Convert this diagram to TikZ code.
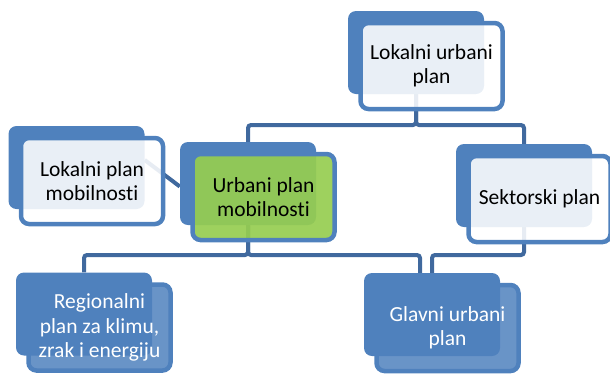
\documentclass[tikz,border=0pt]{standalone}
\usepackage{fontspec}
\setmainfont{Carlito}[Ligatures={NoCommon,NoContextual}]
\usetikzlibrary{backgrounds}

\definecolor{backblue}{RGB}{79,129,189}
\definecolor{linkblue}{RGB}{64,105,158}
\definecolor{limegreen}{RGB}{150,205,80}

\tikzstyle{back} = [rectangle,
    rounded corners=8pt,
    fill=backblue,
    inner sep=0pt,
    minimum width=136pt,
    minimum height=83pt]
\tikzstyle{front} = [rectangle,
    rounded corners=8pt,
    draw=backblue,
    line width=4.5pt,
    minimum width=142pt,
    minimum height=86pt,
    inner sep=2pt,
    text opacity=1,
    align=center,
    font=\fontsize{21.5}{24.5}\selectfont]
\tikzstyle{pale} = [front,
    fill=white,
    fill opacity=0.88]
\tikzstyle{lime} = [front,
    fill=limegreen,
    fill opacity=0.92]
\tikzstyle{deep} = [front,
    fill=backblue,
    fill opacity=0.85,
    text=white]
\tikzstyle{link} = [draw=linkblue,
    line width=4pt,
    rounded corners=3pt]

\begin{document}
\begin{tikzpicture}[x=1pt,y=-1pt]
            \useasboundingbox (0,0) rectangle (610,373);
            % back plates
            \node (lup) [back] at (416,52.5) {};
            \node (lpm) [back] at (76.5,167.5) {};
            \node (upm) [back] at (248,183.5) {};
            \node (sp) [back] at (524,185.5) {};
            \node (rpk) [back] at (84,314) {};
            \node (gup) [back] at (432,314.5) {};
            % front plates with text
            \node (lupt) [pale] at ([shift={(15.5,13.5)}]lup) {Lokalni urbani\\plan};
            \node (lpmt) [pale] at ([shift={(15.5,13.5)}]lpm) {Lokalni plan\\mobilnosti};
            \node (upmt) [lime] at ([shift={(15.5,13.5)}]upm) {Urbani plan\\mobilnosti};
            \node (spt) [pale] at ([shift={(15.5,13.5)}]sp) {Sektorski plan};
            \node (rpkt) [deep] at ([shift={(15.5,13.5)}]rpk) {Regionalni\\plan za klimu,\\zrak i energiju};
            \node (gupt) [deep] at ([shift={(15.5,13.5)}]gup) {Glavni urbani\\plan};
            % connectors
            \begin{scope}[on background layer]
                \coordinate (busa) at (0,125);
                \coordinate (busb) at (0,255);
                \draw [link] (lup.south) -- (lup.south |- busa) -| (upm.north);
                \draw [link] (lup.south) -- (lup.south |- busa) -| (sp.north);
                \draw [link] ([yshift=7.5pt]lpm.east) -- ([yshift=-3pt]upm.west);
                \draw [link] (upm.south) -- (upm.south |- busb) -| (rpk.north);
                \draw [link] (upm.south) -- (upm.south |- busb) -| ([xshift=-12pt]gup.north);
                \draw [link] (sp.south) -- (sp.south |- busb) -| (gup.north);
            \end{scope}
        \end{tikzpicture}
\end{document}
